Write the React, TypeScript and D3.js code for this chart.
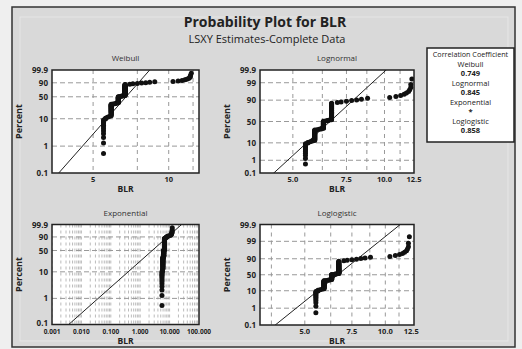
import React from 'react';
import * as d3 from 'd3';

const blrLevels = [5.5, 5.6, 5.7, 5.8, 5.9, 6.0, 6.1, 6.2, 6.3, 6.4, 6.5, 6.6, 6.7,
  7.0, 7.2, 7.5, 7.8, 8.1, 8.4, 8.8, 10.4, 10.9, 11.3, 11.6, 11.8, 12.0, 12.1, 12.2, 12.3];
const blrCounts = [12, 2, 1, 1, 24, 1, 1, 2, 22, 1, 2, 1, 43,
  1, 1, 1, 1, 1, 1, 1, 1, 1, 1, 1, 1, 1, 1, 2, 1];

// correlation coefficients shown in the side box
const corrNames = ['Weibull', 'Lognormal', 'Exponential', 'Loglogistic'];
const corrValues = ['0.749', '0.845', '*', '0.858'];

// fitted (LSXY) lines
const weibullFit = { shape: 10.6, scale: 7.0 };
const lognormalFit = { loc: Math.log(6.62), scale: 0.1375 };
const exponentialFit = { mean: 3.7 };
const loglogisticFit = { loc: Math.log(6.64), scale: 0.0779 };

const ticksSmall = [99.9, 90, 50, 10, 1, 0.1];
const ticksFull = [99.9, 99, 90, 50, 10, 1, 0.1];

// probability transforms
const weibullT = (p: number) => Math.log(-Math.log(1 - p));
const logitT = (p: number) => Math.log(p / (1 - p));
function normInv(p: number) {
  const a = [-39.69683028665376, 220.9460984245205, -275.9285104469687, 138.357751867269, -30.66479806614716, 2.506628277459239];
  const b = [-54.47609879822406, 161.5858368580409, -155.6989798598866, 66.80131188771972, -13.28068155288572];
  const c = [-0.007784894002430293, -0.3223964580411365, -2.400758277161838, -2.549732539343734, 4.374664141464968, 2.938163982698783];
  const d = [0.007784695709041462, 0.3224671290700398, 2.445134137142996, 3.754408661907416];
  const pl = 0.02425;
  if (p < pl) {
    const q = Math.sqrt(-2 * Math.log(p));
    return (((((c[0] * q + c[1]) * q + c[2]) * q + c[3]) * q + c[4]) * q + c[5]) / ((((d[0] * q + d[1]) * q + d[2]) * q + d[3]) * q + 1);
  }
  if (p > 1 - pl) {
    const q = Math.sqrt(-2 * Math.log(1 - p));
    return -(((((c[0] * q + c[1]) * q + c[2]) * q + c[3]) * q + c[4]) * q + c[5]) / ((((d[0] * q + d[1]) * q + d[2]) * q + d[3]) * q + 1);
  }
  const q = p - 0.5, r = q * q;
  return (((((a[0] * r + a[1]) * r + a[2]) * r + a[3]) * r + a[4]) * r + a[5]) * q / (((((b[0] * r + b[1]) * r + b[2]) * r + b[3]) * r + b[4]) * r + 1);
}

// expand ties and get median-rank plotting positions
const blr: number[] = [];
blrLevels.forEach((v, i) => { for (let k = 0; k < blrCounts[i]; k++) blr.push(v); });
blr.sort((a, b) => a - b);
const n = blr.length;
const ranks = blr.map((v, i) => ({ v, p: (i + 1 - 0.3) / (n + 0.4) }));

const expGrid: number[] = [];
[0.001, 0.01, 0.1, 1, 10].forEach(dec => { for (let k = 1; k <= 9; k++) expGrid.push(dec * k); });

const panels = [
  {
    title: 'Weibull', left: 52, right: 199, top: 70, bottom: 173, xDomain: [3.43, 13.2],
    yT: weibullT, yLabels: ticksSmall, yGrid: [90, 50, 10, 1],
    xLabels: [5, 10], xFmt: d3.format('d'), xGrid: [5, 7.5, 10, 12.5], xGridMinor: [] as number[],
    fit: (x: number) => weibullFit.shape * (Math.log(x) - Math.log(weibullFit.scale)),
  },
  {
    title: 'Lognormal', left: 260, right: 414, top: 70, bottom: 173, xDomain: [3.9, 12.5],
    yT: normInv, yLabels: ticksFull, yGrid: [99, 90, 50, 10, 1],
    xLabels: [5, 7.5, 10, 12.5], xFmt: d3.format('.1f'), xGrid: [5, 6.25, 7.5, 8.75, 10, 11.25], xGridMinor: [] as number[],
    fit: (x: number) => (Math.log(x) - lognormalFit.loc) / lognormalFit.scale,
  },
  {
    title: 'Exponential', left: 52, right: 199, top: 224.5, bottom: 324.5, xDomain: [0.001, 100],
    yT: weibullT, yLabels: ticksSmall, yGrid: [90, 50, 10, 1],
    xLabels: [0.001, 0.01, 0.1, 1, 10, 100], xFmt: d3.format('.3f'), xGrid: [] as number[], xGridMinor: expGrid,
    fit: (x: number) => Math.log(x / exponentialFit.mean),
  },
  {
    title: 'Loglogistic', left: 260, right: 414, top: 224.5, bottom: 325, xDomain: [3.4, 12.8],
    yT: logitT, yLabels: ticksFull, yGrid: [99, 90, 50, 10, 1],
    xLabels: [5, 7.5, 10, 12.5], xFmt: d3.format('.1f'), xGrid: [3.75, 5, 6.25, 7.5, 8.75, 10, 11.25], xGridMinor: [] as number[],
    fit: (x: number) => (Math.log(x) - loglogisticFit.loc) / loglogisticFit.scale,
  },
];

const font = "'Open Sans', 'DejaVu Sans', sans-serif";

function Panel({ cfg, idx }: { cfg: typeof panels[0]; idx: number }) {
  const x = d3.scaleLog().domain(cfg.xDomain).range([cfg.left, cfg.right]);
  const yLin = d3.scaleLinear().domain([cfg.yT(0.001), cfg.yT(0.999)]).range([cfg.bottom, cfg.top]);
  const y = (pct: number) => yLin(cfg.yT(pct / 100));
  const clipId = 'clip' + idx;
  const [d0, d1] = cfg.xDomain;
  const fitLine = d3.line<number>().x(v => x(v)).y(v => yLin(cfg.fit(v)))([d0, d1]);
  const midX = (cfg.left + cfg.right) / 2;
  const midY = (cfg.top + cfg.bottom) / 2;
  const isExp = idx === 2;
  return (
    <g>
      <defs>
        <clipPath id={clipId}>
          <rect x={cfg.left} y={cfg.top} width={cfg.right - cfg.left} height={cfg.bottom - cfg.top} />
        </clipPath>
      </defs>
      <rect x={cfg.left} y={cfg.top} width={cfg.right - cfg.left} height={cfg.bottom - cfg.top} fill="#fff" />
      <g clipPath={`url(#${clipId})`}>
        {cfg.xGridMinor.map((v, i) => (
          <line key={'m' + i} x1={x(v)} x2={x(v)} y1={cfg.top} y2={cfg.bottom}
            stroke="#aaa" strokeWidth={0.8} strokeDasharray="3,3" />
        ))}
        {cfg.xGrid.map((v, i) => (
          <line key={'g' + i} x1={x(v)} x2={x(v)} y1={cfg.top} y2={cfg.bottom}
            stroke="#999" strokeWidth={1} strokeDasharray="4,4" />
        ))}
        {cfg.yGrid.map((v, i) => (
          <line key={'h' + i} x1={cfg.left} x2={cfg.right} y1={y(v)} y2={y(v)}
            stroke="#999" strokeWidth={1} strokeDasharray="5,3" />
        ))}
        <path d={fitLine || ''} stroke="#222" strokeWidth={1} fill="none" />
        {ranks.map((r, i) => (
          <circle key={i} cx={x(r.v)} cy={yLin(cfg.yT(r.p))} r={2.5} fill="#111" />
        ))}
      </g>
      <rect x={cfg.left} y={cfg.top} width={cfg.right - cfg.left} height={cfg.bottom - cfg.top}
        fill="none" stroke="#222" strokeWidth={1.5} />
      <text x={midX} y={cfg.top - 9} textAnchor="middle" fontSize={8} fill="#333">{cfg.title}</text>
      {cfg.yLabels.map((v, i) => (
        <text key={i} x={cfg.left - 4} y={y(v) + 3 - (isExp && v === 0.1 ? 2 : 0)} textAnchor="end"
          fontSize={8} fontWeight="bold" fill="#222">{v}</text>
      ))}
      {cfg.xLabels.map((v, i) => (
        <text key={i} x={x(v)} y={cfg.bottom + 9} textAnchor="middle"
          fontSize={isExp ? 6.5 : 7.5} fontWeight="bold" fill="#222">{cfg.xFmt(v)}</text>
      ))}
      <text x={midX} y={cfg.bottom + 19} textAnchor="middle" fontSize={8.5} fontWeight="bold" fill="#222">BLR</text>
      <text transform={`translate(${cfg.left - 30},${midY}) rotate(-90)`} textAnchor="middle"
        fontSize={9} fontWeight="bold" fill="#222">Percent</text>
    </g>
  );
}

export default function App() {
  const boxX = 427, boxY = 48, boxW = 87, boxH = 94;
  return (
    <svg width={522} height={349} style={{ position: 'absolute', left: 0, top: 0 }} fontFamily={font}>
      <rect x={0} y={0} width={522} height={349} fill="#efefef" />
      <rect x={12} y={7} width={503} height={340} fill="#d9d9d9" stroke="#333" strokeWidth={1.5} />
      <rect x={20} y={17} width={488} height={324} fill="none" stroke="#e6e6e6" strokeWidth={1} />
      <text x={265} y={27} textAnchor="middle" fontSize={14} fontWeight="bold" fill="#222">Probability Plot for BLR</text>
      <text x={267} y={43} textAnchor="middle" fontSize={11} fill="#222">LSXY Estimates-Complete Data</text>
      {panels.map((p, i) => <Panel key={p.title} cfg={p} idx={i} />)}
      <rect x={boxX} y={boxY} width={boxW} height={boxH} fill="#fff" stroke="#222" strokeWidth={1.5} />
      <text x={boxX + boxW / 2} y={boxY + 8.5} textAnchor="middle" fontSize={7.2} fill="#222">Correlation Coefficient</text>
      {corrNames.map((name, i) => (
        <g key={name}>
          <text x={boxX + boxW / 2} y={boxY + 18.5 + i * 19} textAnchor="middle" fontSize={7.5} fill="#222">{name}</text>
          <text x={boxX + boxW / 2} y={boxY + 28 + i * 19} textAnchor="middle" fontSize={7.5} fontWeight="bold" fill="#222">{corrValues[i]}</text>
        </g>
      ))}
    </svg>
  );
}
